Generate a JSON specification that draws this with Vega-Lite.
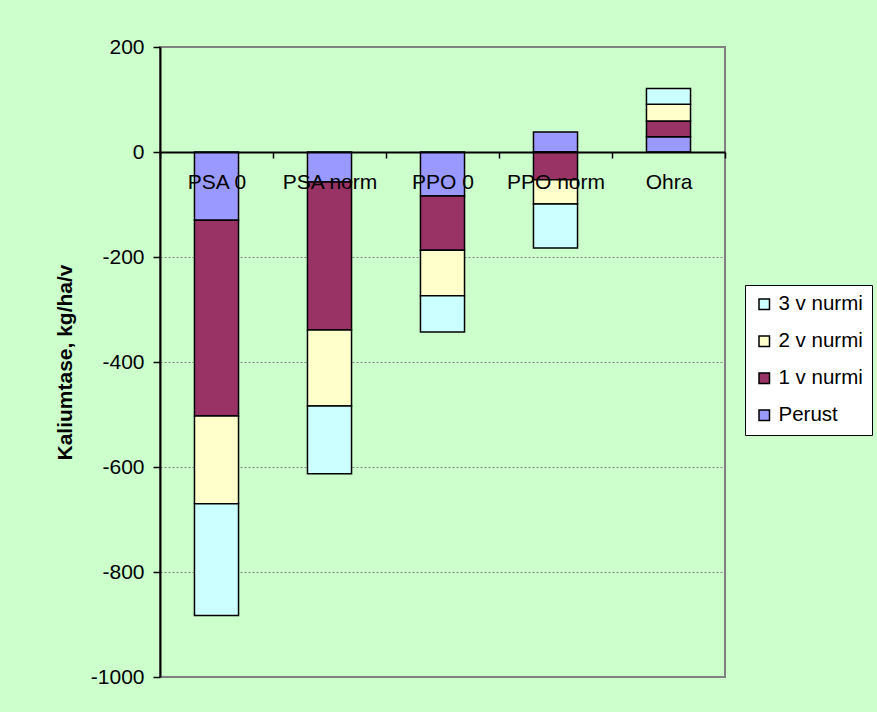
{
  "$schema": "https://vega.github.io/schema/vega-lite/v6.json",
  "width": 565,
  "height": 630,
  "autosize": {"type": "none"},
  "padding": {"left": 160, "top": 47, "right": 152, "bottom": 35},
  "background": "#CCFFCC",
  "config": {
    "font": "Liberation Sans",
    "view": {"stroke": "#808080", "strokeWidth": 2}
  },
  "data": {
    "values": [
      {"cat": "PSA 0", "series": "Perust", "ord": 0, "value": -130},
      {"cat": "PSA 0", "series": "1 v nurmi", "ord": 1, "value": -373},
      {"cat": "PSA 0", "series": "2 v nurmi", "ord": 2, "value": -167},
      {"cat": "PSA 0", "series": "3 v nurmi", "ord": 3, "value": -213},
      {"cat": "PSA norm", "series": "Perust", "ord": 0, "value": -57},
      {"cat": "PSA norm", "series": "1 v nurmi", "ord": 1, "value": -282},
      {"cat": "PSA norm", "series": "2 v nurmi", "ord": 2, "value": -145},
      {"cat": "PSA norm", "series": "3 v nurmi", "ord": 3, "value": -129},
      {"cat": "PPO 0", "series": "Perust", "ord": 0, "value": -84},
      {"cat": "PPO 0", "series": "1 v nurmi", "ord": 1, "value": -103},
      {"cat": "PPO 0", "series": "2 v nurmi", "ord": 2, "value": -87},
      {"cat": "PPO 0", "series": "3 v nurmi", "ord": 3, "value": -69},
      {"cat": "PPO norm", "series": "Perust", "ord": 0, "value": 38},
      {"cat": "PPO norm", "series": "1 v nurmi", "ord": 1, "value": -53},
      {"cat": "PPO norm", "series": "2 v nurmi", "ord": 2, "value": -46},
      {"cat": "PPO norm", "series": "3 v nurmi", "ord": 3, "value": -84},
      {"cat": "Ohra", "series": "Perust", "ord": 0, "value": 29},
      {"cat": "Ohra", "series": "1 v nurmi", "ord": 1, "value": 30},
      {"cat": "Ohra", "series": "2 v nurmi", "ord": 2, "value": 32},
      {"cat": "Ohra", "series": "3 v nurmi", "ord": 3, "value": 30}
    ]
  },
  "mark": {"type": "bar", "stroke": "black", "strokeWidth": 1.5, "width": {"band": 0.39}},
  "encoding": {
    "x": {
      "field": "cat",
      "type": "nominal",
      "sort": ["PSA 0", "PSA norm", "PPO 0", "PPO norm", "Ohra"],
      "scale": {"paddingInner": 0, "paddingOuter": 0},
      "axis": {
        "orient": "bottom",
        "offset": -525,
        "zindex": 1,
        "title": null,
        "labelAngle": 0,
        "labelFontSize": 21,
        "labelColor": "black",
        "labelPadding": 13,
        "domainColor": "black",
        "domainWidth": 2,
        "tickColor": "black",
        "tickWidth": 1.5,
        "tickSize": 6,
        "tickBand": "extent"
      }
    },
    "y": {
      "field": "value",
      "type": "quantitative",
      "stack": "zero",
      "scale": {"domain": [-1000, 200], "nice": false},
      "axis": {
        "title": "Kaliumtase, kg/ha/v",
        "titleFontSize": 21,
        "titleFontWeight": "bold",
        "titleColor": "black",
        "titlePadding": 15,
        "values": [200, 0, -200, -400, -600, -800, -1000],
        "labelExpr": "'' + datum.value",
        "labelFontSize": 21,
        "labelColor": "black",
        "labelPadding": 9,
        "domainColor": "black",
        "domainWidth": 2,
        "tickColor": "black",
        "tickWidth": 1.5,
        "tickSize": 7,
        "gridColor": "#808080",
        "gridDash": [2, 2],
        "gridWidth": 1
      }
    },
    "color": {
      "field": "series",
      "type": "nominal",
      "scale": {
        "domain": ["3 v nurmi", "2 v nurmi", "1 v nurmi", "Perust"],
        "range": ["#CCFFFF", "#FFFFCC", "#993366", "#9999FF"]
      },
      "legend": {
        "title": null,
        "orient": "none",
        "legendX": 585,
        "legendY": 238,
        "fillColor": "white",
        "strokeColor": "black",
        "padding": 9,
        "rowPadding": 16,
        "labelFontSize": 20.5,
        "labelColor": "black",
        "labelOffset": 4,
        "symbolType": "square",
        "symbolSize": 110,
        "symbolStrokeColor": "black",
        "symbolStrokeWidth": 1.5,
        "symbolOpacity": 1
      }
    },
    "order": {"field": "ord", "type": "quantitative"}
  }
}
